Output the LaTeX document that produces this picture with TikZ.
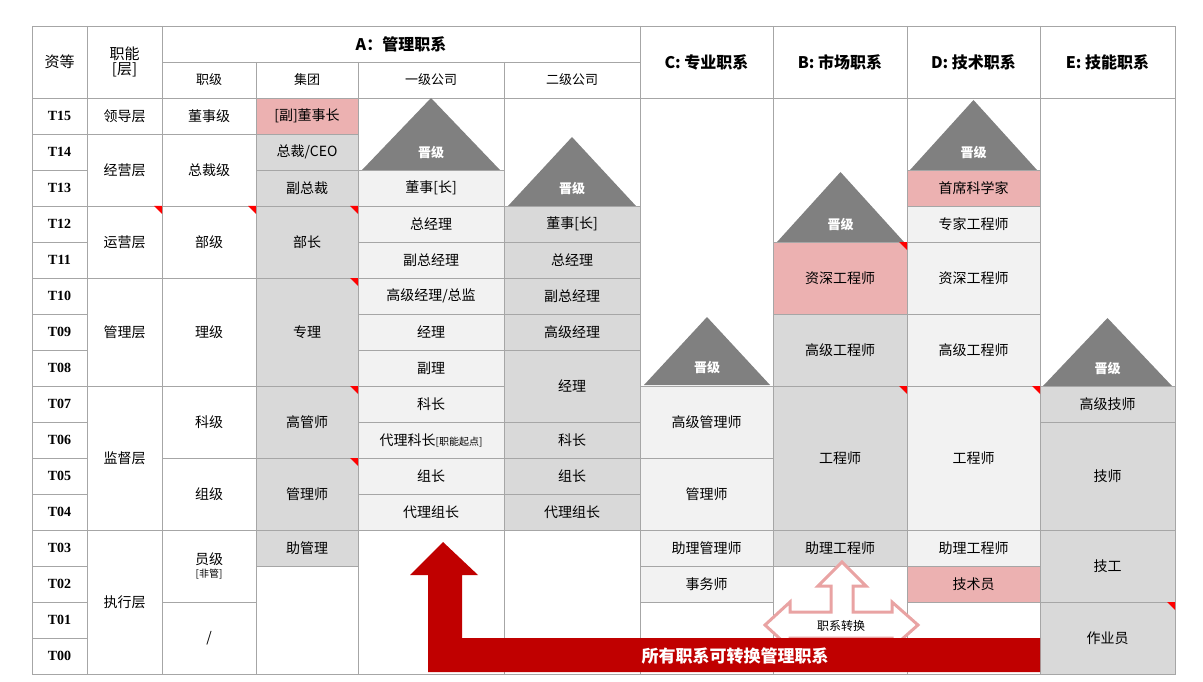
\documentclass[tikz,border=0pt]{standalone}
\usepackage{fontspec}
\setmainfont{Noto Sans CJK SC}
\definecolor{gridc}{HTML}{A6A6A6}
\definecolor{lightc}{HTML}{F2F2F2}
\definecolor{grayc}{HTML}{D9D9D9}
\definecolor{pinkc}{HTML}{ECB1B1}
\definecolor{triac}{HTML}{808080}
\definecolor{darkred}{HTML}{C00000}
\definecolor{arrowpink}{HTML}{E9A3A3}
% cell: left, right, first row, last row (T15 = 0), style, text
\newcommand\cell[6]{%
  \draw[gridc,#5] (#1,{98+36*#3}) rectangle (#2,{98+36*(#4+1)});
  \node[cellfont] at ({(#1+#2)/2},{98+36*(#3+#4+1)/2}) {#6};}
\newcommand\redmark[2]{\fill[red] (#1,#2) -- ++(-8,0) -- ++(8,8) -- cycle;}
\newcommand\upgrade[4]{% left, right, apex y, base y
  \fill[triac] (#1,#4) -- ({(#1+#2)/2},#3) -- (#2,#4) -- cycle;
  \node[white,font=\fontsize{13}{15}\selectfont\bfseries] at ({(#1+#2)/2},{#4-17}) {晋级};}
\begin{document}
\begin{tikzpicture}[x=1pt,y=-1pt,
  cellfont/.style={font=\fontsize{14}{16}\selectfont},
  headfont/.style={font=\fontsize{16}{18}\selectfont\bfseries},
  subfont/.style={font=\fontsize{13}{15}\selectfont},
  lt/.style={fill=lightc}, gr/.style={fill=grayc}, pk/.style={fill=pinkc}, wh/.style={fill=white}]
\useasboundingbox (0,0) rectangle (1203,682);
% header
\draw[gridc] (32,26) rectangle (1175,674);
\foreach \x in {87,162,640,773,907,1040} \draw[gridc] (\x,26) -- (\x,674);
\foreach \x in {256,358,504} \draw[gridc] (\x,62) -- (\x,674);
\draw[gridc] (162,62) -- (640,62);
\draw[gridc] (32,98) -- (1175,98);
\node[cellfont,font=\fontsize{15}{17}\selectfont] (zd) at (59.5,62) {资等};
\node[cellfont,align=center,font=\fontsize{15}{17}\selectfont] (zn) at (124.5,62) {职能\\[-2pt]{[}层{]}};
\node[headfont] (ha) at (401,44) {A：管理职系};
\node[subfont] (hzj) at (209,80) {职级};
\node[subfont] (hjt) at (307,80) {集团};
\node[subfont] (hyj) at (431,80) {一级公司};
\node[subfont] (hej) at (572,80) {二级公司};
\node[headfont] (hc) at (706.5,62) {C: 专业职系};
\node[headfont] (hb) at (840,62) {B: 市场职系};
\node[headfont] (hd) at (973.5,62) {D: 技术职系};
\node[headfont] (he) at (1107.5,62) {E: 技能职系};
% grade column
\foreach \t [count=\i from 0] in {15,14,13,12,11,10,09,08,07,06,05,04,03,02,01,00}
  \cell{32}{87}{\i}{\i}{wh}{\bfseries\fontspec{Liberation Serif}T\t};
% function layer
\cell{87}{162}{0}{0}{wh}{领导层}
\cell{87}{162}{1}{2}{wh}{经营层}
\cell{87}{162}{3}{4}{wh}{运营层}
\cell{87}{162}{5}{7}{wh}{管理层}
\cell{87}{162}{8}{11}{wh}{监督层}
\cell{87}{162}{12}{15}{wh}{执行层}
% rank
\cell{162}{256}{0}{0}{wh}{董事级}
\cell{162}{256}{1}{2}{wh}{总裁级}
\cell{162}{256}{3}{4}{wh}{部级}
\cell{162}{256}{5}{7}{wh}{理级}
\cell{162}{256}{8}{9}{wh}{科级}
\cell{162}{256}{10}{11}{wh}{组级}
\draw[gridc,fill=white] (162,530) rectangle (256,602);
\node[cellfont,align=center] at (209,566) {员级\\[-3pt]{\fontsize{10}{12}\selectfont[非管]}};
\cell{162}{256}{14}{15}{wh}{/}
% group
\cell{256}{358}{0}{0}{pk}{[副]董事长}
\cell{256}{358}{1}{1}{gr}{总裁/CEO}
\cell{256}{358}{2}{2}{gr}{副总裁}
\cell{256}{358}{3}{4}{gr}{部长}
\cell{256}{358}{5}{7}{gr}{专理}
\cell{256}{358}{8}{9}{gr}{高管师}
\cell{256}{358}{10}{11}{gr}{管理师}
\cell{256}{358}{12}{12}{gr}{助管理}
% first-level company
\upgrade{362}{500}{98}{170}
\foreach \t [count=\i from 2] in {董事[长],总经理,副总经理,高级经理/总监,经理,副理,科长,
  {代理科长{\fontsize{10}{12}\selectfont[职能起点]}},组长,代理组长}
  \cell{358}{504}{\i}{\i}{lt}{\t};
% second-level company
\upgrade{508}{636}{137}{206}
\cell{504}{640}{3}{3}{gr}{董事[长]}
\cell{504}{640}{4}{4}{gr}{总经理}
\cell{504}{640}{5}{5}{gr}{副总经理}
\cell{504}{640}{6}{6}{gr}{高级经理}
\cell{504}{640}{7}{8}{gr}{经理}
\cell{504}{640}{9}{9}{gr}{科长}
\cell{504}{640}{10}{10}{gr}{组长}
\cell{504}{640}{11}{11}{gr}{代理组长}
% C
\upgrade{644}{770}{317}{385}
\cell{640}{773}{8}{9}{lt}{高级管理师}
\cell{640}{773}{10}{11}{lt}{管理师}
\cell{640}{773}{12}{12}{lt}{助理管理师}
\cell{640}{773}{13}{13}{lt}{事务师}
% B
\upgrade{777}{904}{172}{242}
\cell{773}{907}{4}{5}{pk}{资深工程师}
\cell{773}{907}{6}{7}{gr}{高级工程师}
\cell{773}{907}{8}{11}{gr}{工程师}
\cell{773}{907}{12}{12}{gr}{助理工程师}
% D
\upgrade{910}{1037}{100}{170}
\cell{907}{1040}{2}{2}{pk}{首席科学家}
\cell{907}{1040}{3}{3}{lt}{专家工程师}
\cell{907}{1040}{4}{5}{lt}{资深工程师}
\cell{907}{1040}{6}{7}{lt}{高级工程师}
\cell{907}{1040}{8}{11}{lt}{工程师}
\cell{907}{1040}{12}{12}{lt}{助理工程师}
\cell{907}{1040}{13}{13}{pk}{技术员}
% E
\upgrade{1043}{1172}{318}{386}
\cell{1040}{1175}{8}{8}{gr}{高级技师}
\cell{1040}{1175}{9}{11}{gr}{技师}
\cell{1040}{1175}{12}{13}{gr}{技工}
\cell{1040}{1175}{14}{15}{gr}{作业员}
% red corner marks
\redmark{162}{206} \redmark{256}{206} \redmark{358}{206} \redmark{358}{278}
\redmark{358}{386} \redmark{358}{458} \redmark{907}{242} \redmark{907}{386}
\redmark{1040}{386} \redmark{1175}{602}
% transfer cross arrow
\draw[arrowpink,line width=3pt,fill=white,line join=miter]
  (842,562) -- (866,586) -- (853,586) -- (853,612) -- (892,612) -- (892,602)
  -- (918,625) -- (892,648) -- (892,638) -- (790,638) -- (790,648) -- (765,625)
  -- (790,602) -- (790,612) -- (831,612) -- (831,586) -- (818,586) -- cycle;
\node[cellfont,font=\fontsize{12}{14}\selectfont] (zx) at (841,626) {职系转换};
% big red arrow
\fill[darkred] (1040,638) -- (1040,672) -- (428,672) -- (428,575) -- (410,575)
  -- (443,542) -- (478,575) -- (462,575) -- (462,638) -- cycle;
\node[white,font=\fontsize{17}{19}\selectfont\bfseries] (all) at (735,656) {所有职系可转换管理职系};
\end{tikzpicture}
\end{document}
